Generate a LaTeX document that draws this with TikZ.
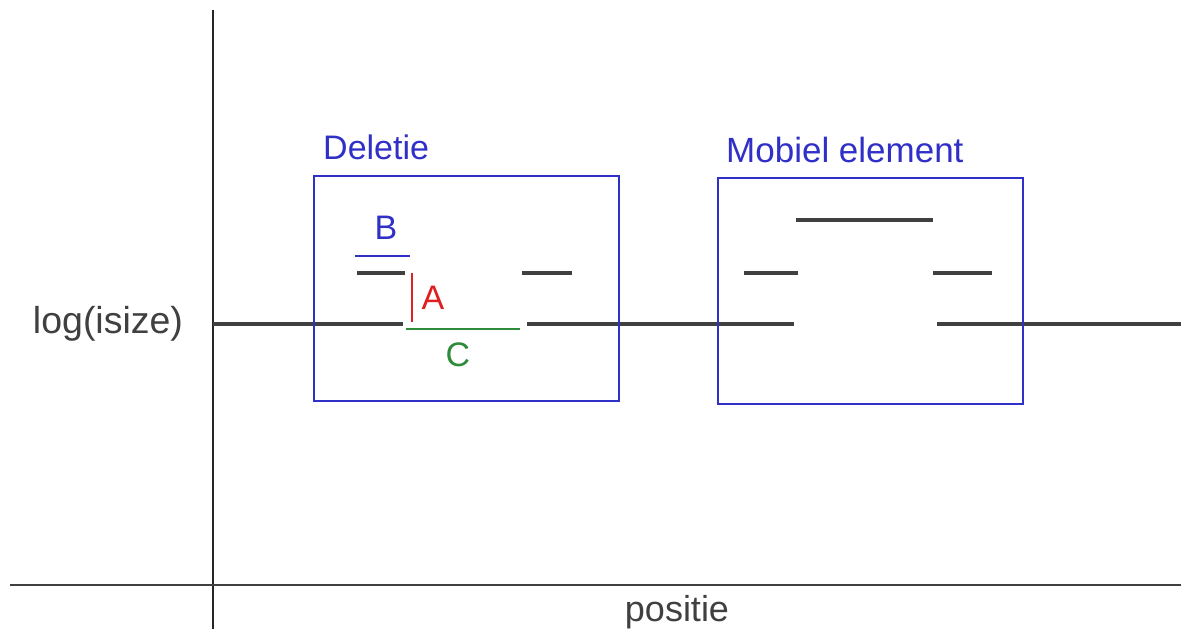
\documentclass[tikz,border=0pt]{standalone}
\usepackage{fontspec}
\setmainfont{Liberation Sans}
\definecolor{lineg}{HTML}{404040}
\definecolor{boxb}{HTML}{3030C8}
\definecolor{redA}{HTML}{E02020}
\definecolor{greenC}{HTML}{2E8B3A}
\tikzset{
  seg/.style={draw=lineg, line width=4pt},
  axis/.style={draw=black!85, line width=1.8pt},
  region/.style={draw=boxb, line width=1.6pt},
  lbl/.style={inner sep=0pt, font=\fontsize{34}{34}\selectfont},
  pt/.style={inner sep=0pt, minimum size=0pt},
}
\begin{document}
\begin{tikzpicture}[x=1pt,y=-1pt]
\useasboundingbox[fill=white] (0,0) rectangle (1181,629);

% axes
\coordinate (ytop) at (213,10);
\coordinate (ybot) at (213,629);
\coordinate (xl) at (10,585);
\coordinate (xr) at (1181,585);
\draw[axis] (ytop) -- (ybot);
\draw[axis, draw=lineg, line width=2.6pt] (xl) -- (xr);
\node[lbl, text=black!75, anchor=base] (xlab) at (677,621) {\fontsize{36}{36}\selectfont positie};
\node[lbl, text=black!75, anchor=center] (ylab) at (108,324) {\fontsize{37.5}{37.5}\selectfont log(isize)};

% baseline pieces
\coordinate (b0) at (213,324);
\coordinate (b1) at (403,324);
\coordinate (b2) at (527,324);
\coordinate (b3) at (794,324);
\coordinate (b4) at (937,324);
\coordinate (b5) at (1181,324);
\draw[seg] (b0) -- (b1);
\draw[seg] (b2) -- (b3);
\draw[seg] (b4) -- (b5);

% deletion box
\node[region, pt, anchor=north west, minimum width=305pt, minimum height=225pt] (del) at (313,175) {};
\node[lbl, text=boxb, anchor=base west] (dellab) at (323,159) {Deletie};
\coordinate (d1) at (357,273);
\coordinate (d2) at (405,273);
\coordinate (d3) at (522,273);
\coordinate (d4) at (572,273);
\draw[seg] (d1) -- (d2);
\draw[seg] (d3) -- (d4);
% B
\coordinate (B1) at (355,256);
\coordinate (B2) at (410,256);
\draw[boxb, line width=2pt] (B1) -- (B2);
\node[lbl, text=boxb] (Blab) at (386,228) {B};
% A
\coordinate (A1) at (412,273);
\coordinate (A2) at (412,322);
\draw[redA, line width=2pt] (A1) -- (A2);
\node[lbl, text=redA] (Alab) at (433,298) {A};
% C
\coordinate (C1) at (406,329);
\coordinate (C2) at (520,329);
\draw[greenC, line width=2pt] (C1) -- (C2);
\node[lbl, text=greenC] (Clab) at (458,355) {C};

% mobile element box
\node[region, pt, anchor=north west, minimum width=305pt, minimum height=226pt] (mob) at (717,177) {};
\node[lbl, text=boxb, anchor=base west] (moblab) at (726,162) {\fontsize{35}{35}\selectfont Mobiel element};
\coordinate (m1) at (796,220);
\coordinate (m2) at (933,220);
\coordinate (m3) at (744,273);
\coordinate (m4) at (798,273);
\coordinate (m5) at (933,273);
\coordinate (m6) at (992,273);
\draw[seg] (m1) -- (m2);
\draw[seg] (m3) -- (m4);
\draw[seg] (m5) -- (m6);
\end{tikzpicture}
\end{document}
